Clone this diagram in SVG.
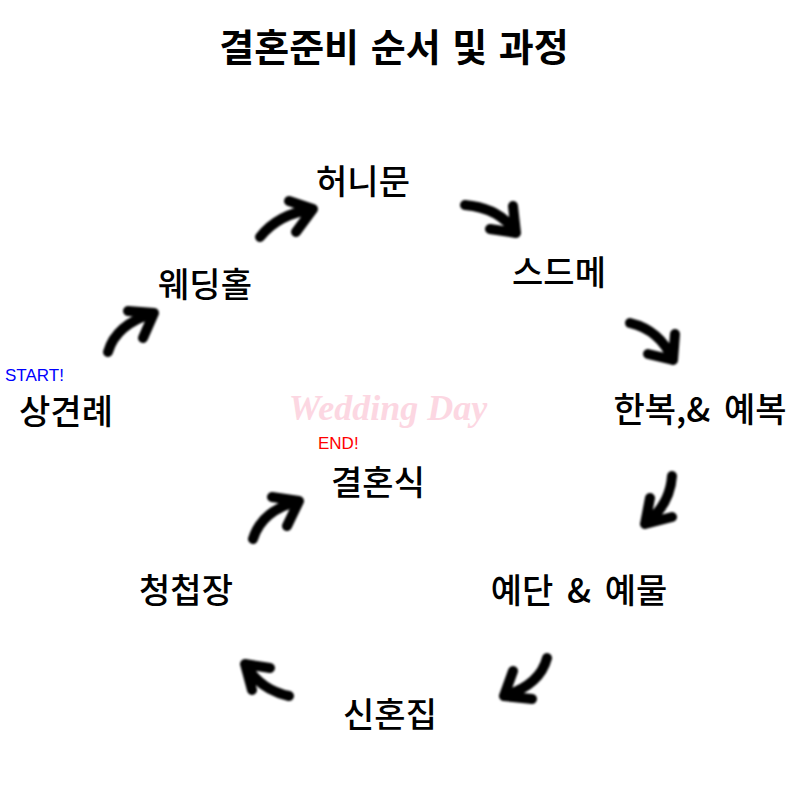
<svg xmlns="http://www.w3.org/2000/svg" width="800" height="800" viewBox="0 0 800 800">
<defs>
<filter id="soft" x="-20%" y="-20%" width="140%" height="140%"><feGaussianBlur stdDeviation="0.9"/></filter>
</defs>
<style>
.lbl{font-family:"Noto Sans CJK KR","Noto Sans",sans-serif;font-size:34px;font-weight:500;fill:#000;text-anchor:middle;word-spacing:6px}
.ttl{font-family:"Noto Sans CJK KR","Noto Sans",sans-serif;font-size:38px;font-weight:700;fill:#000;text-anchor:middle;word-spacing:3px}
.tag{font-family:"Liberation Sans","Noto Sans",sans-serif;font-size:17px}
.arr{fill:none;stroke:#000;stroke-width:10;stroke-linecap:round;stroke-linejoin:round}
</style>
<rect width="800" height="800" fill="#fff"/>
<text class="ttl" x="394" y="61">결혼준비 순서 및 과정</text>
<text x="388" y="420" text-anchor="middle" font-family="Liberation Serif, serif" font-style="italic" font-weight="700" font-size="36" fill="#fcd7e2">Wedding Day</text>
<g id="connectors" filter="url(#soft)">
<path class="arr" d="M108,352 Q116,324 154,313 M128,311 L154,313 L143,338"/>
<path class="arr" d="M260,237 Q278,214 313,209 M289,201 L313,209 L296,232"/>
<path class="arr" d="M465,205 Q500,208 516,233 M513,206 L516,233 L490,229"/>
<path class="arr" d="M630,323 Q660,330 673,360 M675,334 L673,360 L648,354"/>
<path class="arr" d="M672,476 Q670,505 645,524 M650,498 L645,524 L672,517"/>
<path class="arr" d="M547,658 Q540,685 504,696 M513,671 L504,696 L532,699"/>
<path class="arr" d="M289,696 Q260,690 245,664 M270,668 L245,664 L252,690"/>
<path class="arr" d="M253,539 Q262,510 299,501 M272,497 L299,501 L287,526"/>
</g>
<g id="n-sanggyeonrye"><text class="tag" x="5" y="381" fill="#0000ff">START!</text><text class="lbl" x="66" y="424">상견례</text></g>
<g id="n-weddinghall"><text class="lbl" x="205" y="297">웨딩홀</text></g>
<g id="n-honeymoon"><text class="lbl" x="363" y="194">허니문</text></g>
<g id="n-sdm"><text class="lbl" x="559" y="285">스드메</text></g>
<g id="n-hanbok"><text class="lbl" x="700" y="422">한복,&amp; 예복</text></g>
<g id="n-yedan"><text class="lbl" x="579" y="603">예단 &amp; 예물</text></g>
<g id="n-sinhonjip"><text class="lbl" x="390" y="727">신혼집</text></g>
<g id="n-cheongcheop"><text class="lbl" x="186" y="603">청첩장</text></g>
<g id="n-wedding"><text class="tag" x="318" y="449" fill="#ff0000">END!</text><text class="lbl" x="378" y="495">결혼식</text></g>
</svg>
